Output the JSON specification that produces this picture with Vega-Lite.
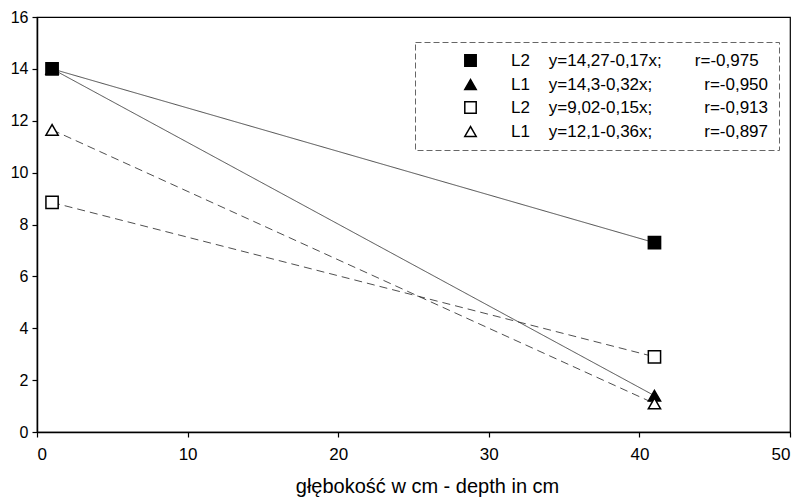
{
  "$schema": "https://vega.github.io/schema/vega-lite/v6.json",
  "width": 753,
  "height": 415,
  "autosize": "none",
  "padding": {"left": 37, "top": 17, "right": 14, "bottom": 71},
  "background": "white",
  "config": {
    "font": "Liberation Sans",
    "view": {"stroke": "black", "strokeWidth": 1.2},
    "axis": {
      "grid": false,
      "domainColor": "black",
      "domainWidth": 1.5,
      "tickColor": "black",
      "tickWidth": 1.2,
      "tickSize": 5,
      "labelColor": "black",
      "labelFontSize": 16,
      "labelFont": "Liberation Sans",
      "titleFont": "Liberation Sans",
      "titleFontWeight": "normal",
      "titleColor": "black",
      "titleFontSize": 20
    },
    "legend": {
      "strokeColor": "#666",
      "strokeDash": [6, 3]
    }
  },
  "data": {
    "values": [
      {"s": "L2a", "x": 1, "y": 14.0},
      {"s": "L2a", "x": 41, "y": 7.3},
      {"s": "L1a", "x": 1, "y": 14.0},
      {"s": "L1a", "x": 41, "y": 1.4},
      {"s": "L2b", "x": 1, "y": 8.85},
      {"s": "L2b", "x": 41, "y": 2.9},
      {"s": "L1b", "x": 1, "y": 11.65},
      {"s": "L1b", "x": 41, "y": 1.1}
    ]
  },
  "encoding": {
    "x": {
      "field": "x", "type": "quantitative",
      "scale": {"domain": [0, 50], "nice": false},
      "axis": {"values": [0, 10, 20, 30, 40, 50], "labelPadding": 9, "labelFontSize": 17, "title": "głębokość w cm - depth in cm", "titlePadding": 14, "titleX": 390}
    },
    "y": {
      "field": "y", "type": "quantitative",
      "scale": {"domain": [0, 16], "nice": false},
      "axis": {"values": [0, 2, 4, 6, 8, 10, 12, 14, 16], "labelPadding": 4, "title": null}
    }
  },
  "resolve": {"legend": {"strokeDash": "independent", "strokeWidth": "independent"}},
  "layer": [
    {
      "mark": {"type": "line", "color": "#222"},
      "encoding": {
        "strokeDash": {
          "field": "s", "type": "nominal",
          "scale": {"domain": ["L2a", "L1a", "L2b", "L1b"], "range": [[1, 0], [1, 0], [8, 5], [8, 5]]},
          "legend": null
        },
        "strokeWidth": {
          "field": "s", "type": "nominal",
          "scale": {"domain": ["L2a", "L1a", "L2b", "L1b"], "range": [0.8, 0.8, 1.6, 1.6]},
          "legend": null
        }
      }
    },
    {
      "mark": {"type": "point", "filled": false, "color": "black", "strokeWidth": 1.5, "size": 150, "opacity": 1},
      "encoding": {
        "shape": {
          "field": "s", "type": "nominal",
          "scale": {"domain": ["L2a", "L1a", "L2b", "L1b"], "range": ["square", "triangle-up", "square", "triangle-up"]},
          "legend": {
            "title": null,
            "orient": "none",
            "legendX": 378,
            "legendY": 25,
            "padding": 10,
            "symbolOffset": 37,
            "labelOffset": 32,
            "labelFontSize": 17,
            "labelFont": "Liberation Sans",
            "labelColor": "black",
            "labelLimit": 500,
            "rowPadding": 5,
            "symbolSize": 130,
            "symbolStrokeColor": "black",
            "symbolStrokeWidth": 1.5,
            "labelExpr": "datum.value == 'L2a' ? 'L2\u00a0\u00a0\u00a0\u00a0y=14,27-0,17x;\u00a0\u00a0\u00a0\u00a0\u00a0\u00a0\u00a0r=-0,975' : datum.value == 'L1a' ? 'L1\u00a0\u00a0\u00a0\u00a0y=14,3-0,32x;\u00a0\u00a0\u00a0\u00a0\u00a0\u00a0\u00a0\u00a0\u00a0\u00a0\u00a0r=-0,950\u00a0\u00a0\u00a0\u00a0\u00a0' : datum.value == 'L2b' ? 'L2\u00a0\u00a0\u00a0\u00a0y=9,02-0,15x;\u00a0\u00a0\u00a0\u00a0\u00a0\u00a0\u00a0\u00a0\u00a0\u00a0\u00a0r=-0,913' : 'L1\u00a0\u00a0\u00a0\u00a0y=12,1-0,36x;\u00a0\u00a0\u00a0\u00a0\u00a0\u00a0\u00a0\u00a0\u00a0\u00a0\u00a0r=-0,897'"
          }
        },
        "fill": {
          "field": "s", "type": "nominal",
          "scale": {"domain": ["L2a", "L1a", "L2b", "L1b"], "range": ["black", "black", "white", "white"]}
        },
        "stroke": {
          "field": "s", "type": "nominal",
          "scale": {"domain": ["L2a", "L1a", "L2b", "L1b"], "range": ["black", "black", "black", "black"]}
        }
      }
    }
  ]
}
